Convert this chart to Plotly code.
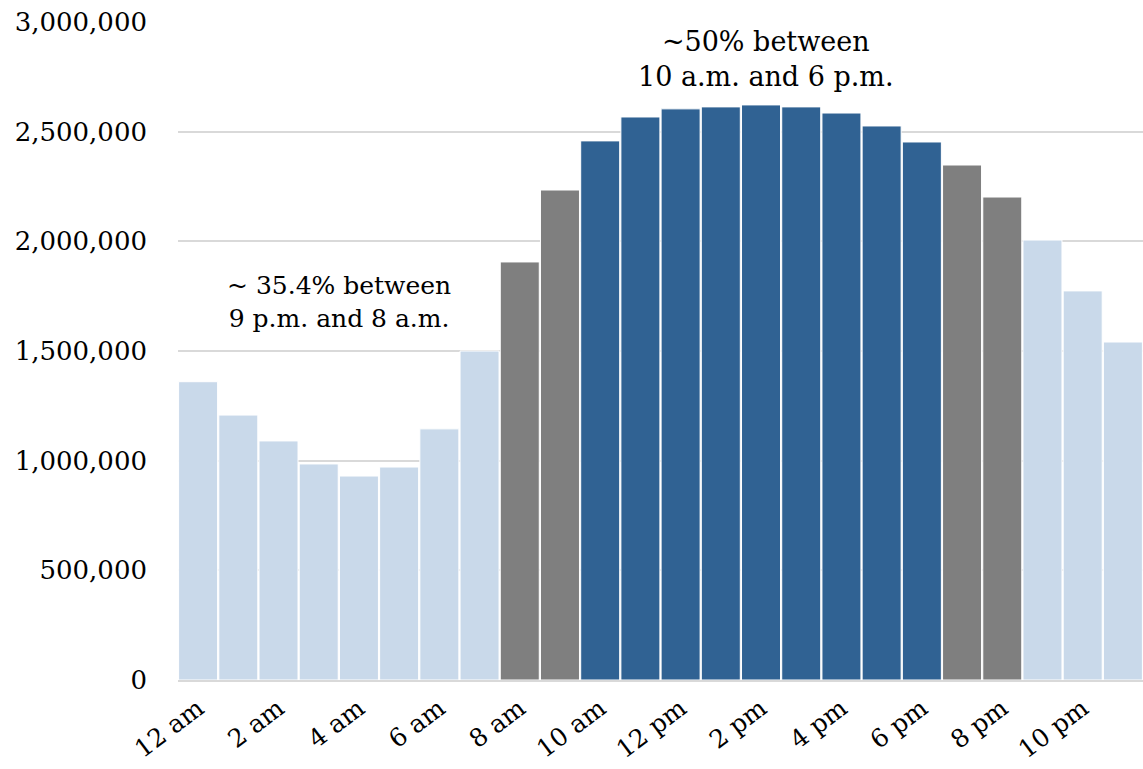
import plotly.graph_objects as go

# Hourly totals, midnight through 11 pm
hours = list(range(24))
hour_labels = ["12 am", "2 am", "4 am", "6 am", "8 am", "10 am",
               "12 pm", "2 pm", "4 pm", "6 pm", "8 pm", "10 pm"]
label_hours = list(range(0, 24, 2))
values = [1360000, 1208000, 1090000, 985000, 930000, 971000,
          1145000, 1500000, 1906000, 2234000, 2458000, 2567000,
          2604000, 2613000, 2622000, 2613000, 2585000, 2526000,
          2453000, 2348000, 2202000, 2006000, 1774000, 1541000]
# Period group per hour: night, shoulder, day
groups = ["night"] * 8 + ["shoulder"] * 2 + ["day"] * 9 + ["shoulder"] * 2 + ["night"] * 3

palette = {"night": "#c9d9ea", "shoulder": "#7f7f7f", "day": "#306293"}
colors = [palette[g] for g in groups]

font_family = "DejaVu Serif"
text_color = "#000000"

fig = go.Figure(go.Bar(
    x=hours,
    y=values,
    marker=dict(color=colors, line=dict(color="white", width=1)),
    hoverinfo="x+y",
))

fig.update_layout(
    width=1143,
    height=769,
    margin=dict(l=178, r=0, t=22, b=89),
    paper_bgcolor="white",
    plot_bgcolor="white",
    bargap=0.03,
    showlegend=False,
    font=dict(family=font_family, size=26, color=text_color),
)

fig.update_xaxes(
    range=[-0.5, 23.5],
    tickmode="array",
    tickvals=label_hours,
    ticktext=hour_labels,
    tickangle=-37,
    showgrid=False,
    showline=True,
    linecolor="#d9d9d9",
    linewidth=2,
    ticks="",
    ticklabelstandoff=2,
    automargin=False,
    tickfont=dict(family=font_family, size=25, color=text_color),
)

fig.update_yaxes(
    range=[0, 3000000],
    tickvals=[0, 500000, 1000000, 1500000, 2000000, 2500000, 3000000],
    tickformat=",d",
    showgrid=True,
    gridcolor="#d9d9d9",
    gridwidth=2,
    zeroline=False,
    ticks="",
    ticklabelstandoff=30,
    automargin=False,
    tickfont=dict(family=font_family, size=26, color=text_color),
)

fig.add_annotation(
    x=3.5, y=1724000, xref="x", yref="y",
    text="~ 35.4% between<br>9 p.m. and 8 a.m.",
    showarrow=False,
    font=dict(family=font_family, size=25, color=text_color),
    align="center",
)
fig.add_annotation(
    x=14.13, y=2832000, xref="x", yref="y",
    text="~50% between<br>10 a.m. and 6 p.m.",
    showarrow=False,
    font=dict(family=font_family, size=27, color=text_color),
    align="center",
)

fig.write_html("out.html")
